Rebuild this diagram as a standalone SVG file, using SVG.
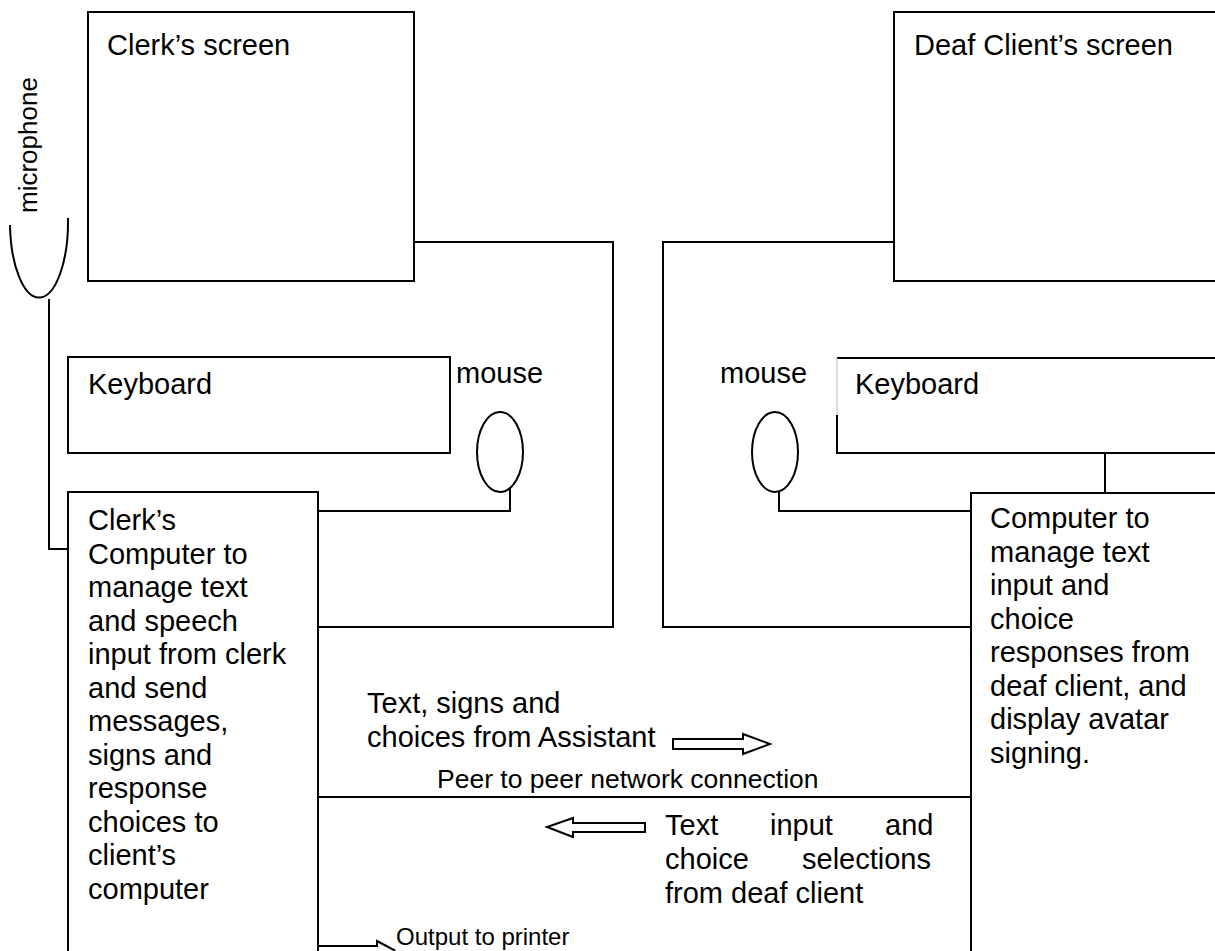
<svg xmlns="http://www.w3.org/2000/svg" width="1215" height="951" viewBox="0 0 1215 951">
  <style>
    .box { fill: #ffffff; stroke: #000000; stroke-width: 2; }
    .wire { fill: none; stroke: #000000; stroke-width: 2; }
    .lbl { font-family: "Liberation Sans", Arial, sans-serif; font-size: 29px; fill: #000000; }
    .sm { font-family: "Liberation Sans", Arial, sans-serif; font-size: 24px; fill: #000000; }
    .blk { fill: #ffffff; stroke: #000000; stroke-width: 2; stroke-linejoin: miter; }
  </style>
  <rect width="1215" height="951" fill="#ffffff"/>

  <!-- wiring between devices -->
  <g id="connectors">
    <!-- clerk screen to clerk computer -->
    <polyline class="wire" points="414,242 613,242 613,627 318,627"/>
    <!-- client screen to client computer -->
    <polyline class="wire" points="894,242 663,242 663,627 971,627"/>
    <!-- clerk mouse to clerk computer -->
    <polyline class="wire" points="510,488 510,511 318,511"/>
    <!-- client mouse to client computer -->
    <polyline class="wire" points="779,491 779,511 971,511"/>
    <!-- client keyboard to client computer -->
    <line class="wire" x1="1105" y1="453" x2="1105" y2="493"/>
    <!-- microphone cable -->
    <polyline class="wire" points="49,299 49,549 68,549"/>
    <!-- network link -->
    <line class="wire" x1="318" y1="797" x2="971" y2="797"/>
  </g>

  <g id="clerk-screen">
    <rect class="box" x="88" y="12" width="326" height="269" stroke-width="2.5"/>
    <text class="lbl" x="107" y="55">Clerk’s screen</text>
  </g>

  <g id="client-screen">
    <rect class="box" x="894" y="12" width="330" height="269" stroke-width="2.5"/>
    <text class="lbl" x="914" y="55">Deaf Client’s screen</text>
  </g>

  <g id="microphone">
    <path class="wire" d="M 10 225 A 29 76 0 0 0 68 218"/>
    <text class="sm" style="font-size:26px" transform="translate(37,213) rotate(-90)">microphone</text>
  </g>

  <g id="clerk-keyboard">
    <rect class="box" x="68" y="357" width="382" height="96"/>
    <text class="lbl" x="88" y="394">Keyboard</text>
  </g>

  <g id="client-keyboard">
    <path class="wire" d="M 1225 358 L 837 358"/>
    <path class="wire" d="M 837 415 L 837 453 L 1225 453"/>
    <line x1="837" y1="358" x2="837" y2="415" stroke="#bbbbbb" stroke-width="1"/>
    <text class="lbl" x="855" y="394">Keyboard</text>
  </g>

  <g id="clerk-mouse">
    <ellipse class="box" cx="500" cy="452" rx="23" ry="40"/>
    <text class="lbl" x="456" y="383">mouse</text>
  </g>

  <g id="client-mouse">
    <ellipse class="box" cx="775" cy="452" rx="23" ry="40"/>
    <text class="lbl" x="720" y="383">mouse</text>
  </g>

  <g id="clerk-computer">
    <rect class="box" x="68" y="492" width="250" height="480"/>
    <text class="lbl">
      <tspan x="88" y="530">Clerk’s</tspan>
      <tspan x="88" y="563.5">Computer to</tspan>
      <tspan x="88" y="597">manage text</tspan>
      <tspan x="88" y="630.5">and speech</tspan>
      <tspan x="88" y="664">input from clerk</tspan>
      <tspan x="88" y="697.5">and send</tspan>
      <tspan x="88" y="731">messages,</tspan>
      <tspan x="88" y="764.5">signs and</tspan>
      <tspan x="88" y="798">response</tspan>
      <tspan x="88" y="831.5">choices to</tspan>
      <tspan x="88" y="865">client’s</tspan>
      <tspan x="88" y="898.5">computer</tspan>
    </text>
  </g>

  <g id="client-computer">
    <rect class="box" x="971" y="493" width="260" height="480"/>
    <text class="lbl">
      <tspan x="990" y="528">Computer to</tspan>
      <tspan x="990" y="561.5">manage text</tspan>
      <tspan x="990" y="595">input and</tspan>
      <tspan x="990" y="628.5">choice</tspan>
      <tspan x="990" y="662">responses from</tspan>
      <tspan x="990" y="695.5">deaf client, and</tspan>
      <tspan x="990" y="729">display avatar</tspan>
      <tspan x="990" y="762.5">signing.</tspan>
    </text>
  </g>

  <g id="to-client">
    <text class="lbl">
      <tspan x="367" y="713">Text, signs and</tspan>
      <tspan x="367" y="747">choices from Assistant</tspan>
    </text>
    <polygon class="blk" points="673,739 743,739 743,734 770,744 743,754 743,749 673,749"/>
  </g>

  <g id="network-label">
    <text class="sm" style="font-size:26.5px" x="437" y="788">Peer to peer network connection</text>
  </g>

  <g id="to-clerk">
    <polygon class="blk" points="645,823 573,823 573,818 547,827 573,837 573,832 645,832"/>
    <text class="lbl">
      <tspan x="665" y="835">Text</tspan>
      <tspan x="770" y="835">input</tspan>
      <tspan x="885" y="835">and</tspan>
      <tspan x="665" y="869">choice</tspan>
      <tspan x="802" y="869">selections</tspan>
      <tspan x="665" y="903">from deaf client</tspan>
    </text>
  </g>

  <g id="printer-output">
    <polygon class="blk" points="318,946 377,946 377,941 394,950 377,959 377,954 318,954"/>
    <text class="sm" x="396" y="945">Output to printer</text>
  </g>
</svg>
